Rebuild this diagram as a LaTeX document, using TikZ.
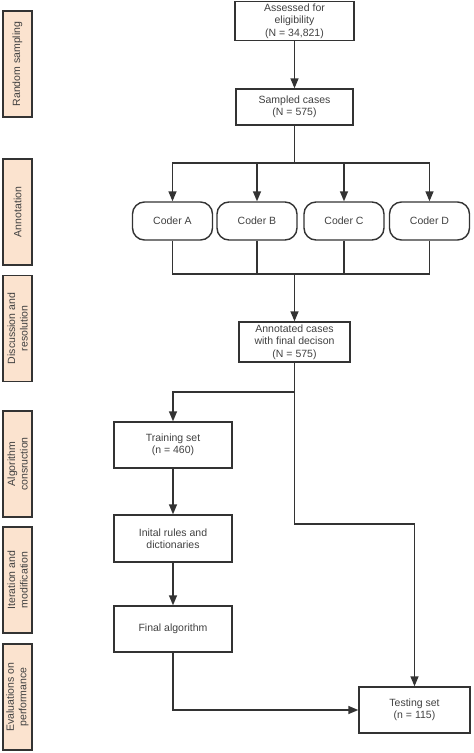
\documentclass[tikz,border=0pt]{standalone}
\usepackage{fontspec}
\setmainfont{Liberation Sans}
\usepackage{xcolor}
\definecolor{myPeach}{HTML}{FBE3CF}
\definecolor{myLine}{HTML}{333333}
\usepackage{tikz}
\usetikzlibrary{
  positioning,
  calc,
  arrows.meta
}
\tikzstyle{flow}=[->, >={Triangle[length=10pt,width=8pt]}, line width=1.4pt, myLine]
\tikzstyle{plainline}=[line width=1.4pt, myLine]
\tikzstyle{box}=[draw=myLine, line width=1.4pt, align=center, inner sep=0pt,
  font=\fontsize{10.5}{12.5}\selectfont, text=black!75]
\tikzstyle{coder}=[box, rounded corners=12pt, minimum width=80pt, minimum height=38pt]
\tikzstyle{stage}=[box, fill=myPeach, rotate=90, minimum width=106pt, minimum height=29pt]

\begin{document}
\begin{tikzpicture}[x=1pt, y=-1pt]
      \useasboundingbox (0,0) rectangle (474,753);

      % 左側の段階ラベル
      \node[stage] (S1) at (17.5,64) {Random sampling};
      \node[stage] (S2) at (17.5,212) {Annotation};
      \node[stage] (S3) at (17.5,328.5) {Discussion and\\resolution};
      \node[stage] (S4) at (17.5,464) {Algorithm\\consruction};
      \node[stage] (S5) at (17.5,580) {Iteration and\\modification};
      \node[stage] (S6) at (17.5,697) {Evaluations on\\performance};

      % 上部の箱
      \node[box, minimum width=119pt, minimum height=39pt] (Assess) at (294.5,21)
        {Assessed for\\eligibility\\(N = 34,821)};
      \node[box, minimum width=117pt, minimum height=36pt] (Sampled) at (294.5,107)
        {Sampled cases\\(N = 575)};

      % コーダー
      \node[coder] (CoderA) at (172.5,221) {Coder A};
      \node[coder] (CoderB) at (257,221) {Coder B};
      \node[coder] (CoderC) at (344,221) {Coder C};
      \node[coder] (CoderD) at (429.5,221) {Coder D};

      \node[box, minimum width=111pt, minimum height=40pt] (Annot) at (294.5,342)
        {Annotated cases\\with final decison\\(N = 575)};

      % アルゴリズムの箱
      \node[box, minimum width=118pt, minimum height=46pt] (Train) at (173,445)
        {Training set\\(n = 460)};
      \node[box, minimum width=118pt, minimum height=47pt] (Init) at (173,538.5)
        {Inital rules and\\dictionaries};
      \node[box, minimum width=118pt, minimum height=46pt] (Final) at (173,629)
        {Final algorithm};
      \node[box, minimum width=111pt, minimum height=46pt] (Test) at (414.5,710)
        {Testing set\\(n = 115)};

      % 分岐点
      \coordinate (Split) at (294.5,163);
      \coordinate (Merge) at (294.5,274);
      \coordinate (Branch) at (294.5,392);
      \coordinate (Turn) at (294.5,524);

      % 矢印
      \draw[flow] (Assess) -- (Sampled);
      \draw[plainline] (Sampled) -- (Split);
      \draw[flow] (Split) -| (CoderA);
      \draw[flow] (Split) -| (CoderB);
      \draw[flow] (Split) -| (CoderC);
      \draw[flow] (Split) -| (CoderD);
      \draw[plainline] (CoderA) |- (Merge);
      \draw[plainline] (CoderB) |- (Merge);
      \draw[plainline] (CoderC) |- (Merge);
      \draw[plainline] (CoderD) |- (Merge);
      \draw[flow] (Merge) -- (Annot);
      \draw[plainline] (Annot) -- (Branch);
      \draw[flow] (Branch) -| (Train);
      \draw[flow] (Branch) -- (Turn) -| (Test);
      \draw[flow] (Train) -- (Init);
      \draw[flow] (Init) -- (Final);
      \draw[flow] (Final) |- (Test);
    \end{tikzpicture}
\end{document}
